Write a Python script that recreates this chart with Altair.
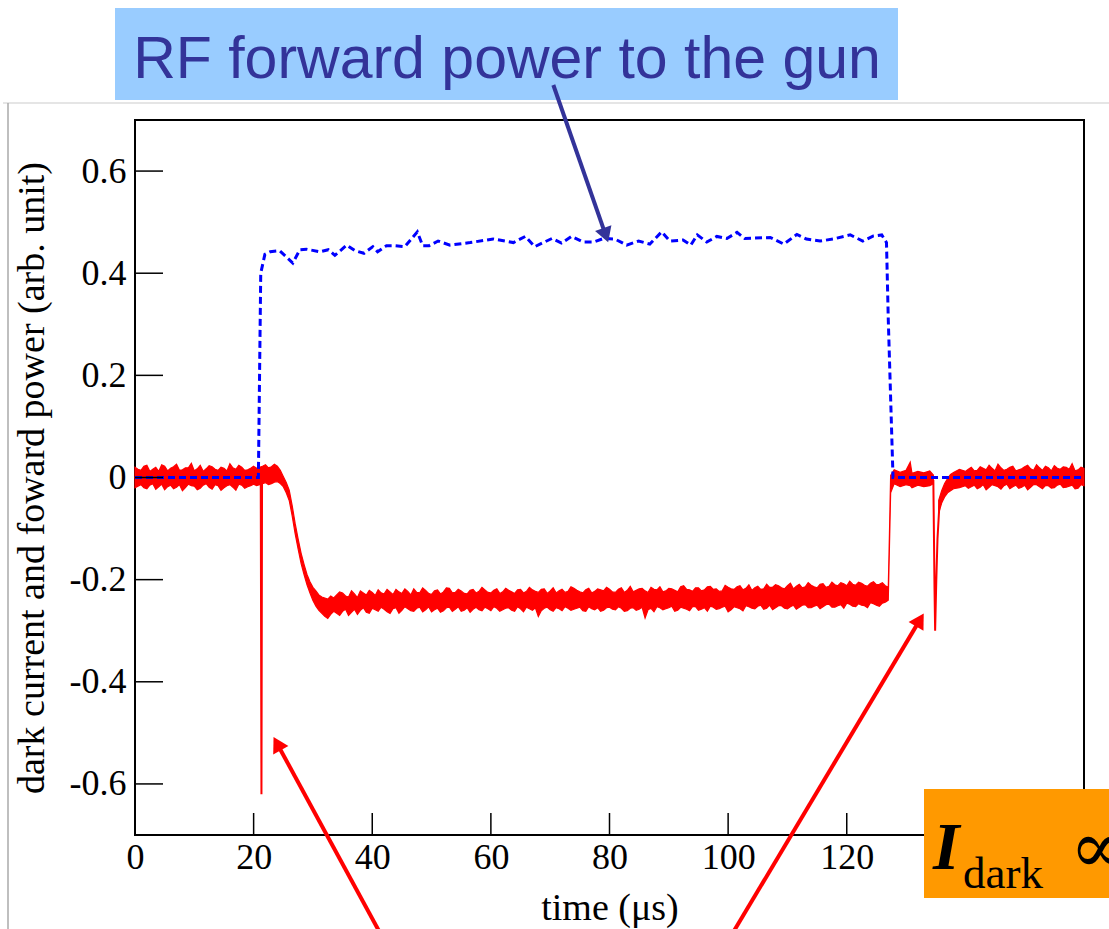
import altair as alt
import pandas as pd

# ---------------- data ----------------
# RF forward power (blue dashed): (time in us, value)
blue_points = [
    (0, 0.0), (20.8, 0.0), (21.2, 0.40), (21.9, 0.437), (22.8, 0.442), (24.4, 0.444),
    (26.6, 0.420), (27.8, 0.446), (28.9, 0.447), (31.2, 0.442), (32.6, 0.446), (33.7, 0.435),
    (35.7, 0.455), (37.1, 0.444), (38.6, 0.439), (40.1, 0.452), (40.9, 0.442), (42.4, 0.454),
    (43.5, 0.454), (45.5, 0.452), (47.6, 0.481), (48.5, 0.454), (49.6, 0.454), (51.1, 0.463),
    (53.1, 0.455), (56.5, 0.460), (60.4, 0.467), (63.8, 0.460), (65.8, 0.472), (67.4, 0.452),
    (70.3, 0.468), (71.9, 0.459), (73.6, 0.472), (75.6, 0.461), (77.3, 0.461), (79.0, 0.468),
    (80.9, 0.467), (82.9, 0.455), (84.9, 0.463), (86.8, 0.457), (88.8, 0.481), (90.2, 0.463),
    (92.4, 0.465), (93.7, 0.455), (94.8, 0.475), (96.4, 0.461), (98.1, 0.472), (99.8, 0.468),
    (101.5, 0.480), (102.8, 0.468), (107.1, 0.470), (109.4, 0.457), (111.6, 0.476), (113.2, 0.467),
    (115.5, 0.463), (117.7, 0.467), (120.6, 0.475), (122.7, 0.463), (124.5, 0.473), (125.9, 0.475),
    (126.7, 0.460), (127.0, 0.31), (127.8, 0.0), (160, 0.0),
]

# Dark current (red, noisy): (time, upper edge of noise band, lower edge)
red_band_a = [
    (0, .020, -.020), (1, .014, -.014), (2, .024, -.022), (3, .016, -.012), (4, .012, -.018),
    (5, .022, -.024), (6, .018, -.015), (7, .026, -.019), (8, .015, -.026), (9, .019, -.013),
    (10, .013, -.017), (11, .024, -.021), (12, .017, -.012), (13, .021, -.023), (14, .014, -.016),
    (15, .018, -.020), (16, .027, -.014), (17, .016, -.025), (18, .020, -.015), (19, .015, -.018),
    (20, .022, -.013), (20.5, .018, -.016), (21, .020, -.014), (21.5, .022, -.012), (22, .025, -.010),
    (22.5, .019, -.014), (23, .021, -.012), (23.5, .026, -.009), (24, .022, -.008), (24.5, .014, -.012),
    (25, .002, -.018), (25.5, -.010, -.030), (26, -.025, -.045), (26.5, -.055, -.075), (27, -.090, -.110),
    (27.5, -.120, -.140), (28, -.148, -.168), (28.5, -.170, -.190), (29, -.190, -.210), (29.5, -.204, -.226),
    (30, -.215, -.241), (30.5, -.222, -.252), (31, -.230, -.260), (31.5, -.234, -.266), (32, -.236, -.272),
    (32.5, -.238, -.276), (33, -.232, -.268),
    (34, -.230, -.266), (35, -.226, -.262), (36, -.234, -.270), (37, -.228, -.258), (38, -.222, -.260),
    (39, -.230, -.264), (40, -.225, -.256), (41, -.220, -.262), (42, -.228, -.258), (43, -.224, -.266),
    (44, -.219, -.255), (45, -.227, -.260), (46, -.223, -.257), (47, -.218, -.262), (48, -.226, -.254),
    (49, -.221, -.259), (50, -.229, -.263), (51, -.220, -.256), (52, -.224, -.261), (53, -.217, -.254),
    (54, -.225, -.258), (55, -.222, -.262), (56, -.228, -.255), (57, -.219, -.258), (58, -.223, -.259),
    (59, -.220, -.254), (60, -.226, -.261), (61, -.218, -.256), (62, -.224, -.259), (63, -.221, -.255),
    (64, -.227, -.262), (65, -.219, -.257), (66, -.223, -.254), (67, -.220, -.260), (68, -.225, -.272),
    (69, -.218, -.256), (70, -.222, -.259), (71, -.226, -.255), (72, -.219, -.261), (73, -.223, -.256),
    (74, -.217, -.258), (75, -.224, -.254), (76, -.220, -.262), (77, -.226, -.257), (78, -.218, -.255),
    (79, -.222, -.260), (80, -.219, -.254), (81, -.225, -.259), (82, -.216, -.256), (83, -.221, -.261),
    (84, -.224, -.255), (85, -.218, -.258), (86, -.222, -.275), (87, -.215, -.256), (88, -.220, -.253),
    (89, -.224, -.259), (90, -.217, -.255), (91, -.221, -.262), (92, -.214, -.254), (93, -.219, -.258),
    (94, -.223, -.253), (95, -.216, -.260), (96, -.220, -.255), (97, -.213, -.252), (98, -.218, -.258),
    (99, -.222, -.254), (100, -.215, -.263), (101, -.219, -.253), (102, -.212, -.257), (103, -.217, -.251),
    (104, -.221, -.256), (105, -.213, -.252), (106, -.218, -.258), (107, -.215, -.250), (108, -.210, -.255),
    (109, -.216, -.251), (110, -.212, -.257), (111, -.218, -.250), (112, -.209, -.254), (113, -.214, -.249),
    (114, -.211, -.255), (115, -.216, -.250), (116, -.208, -.253), (117, -.213, -.248), (118, -.210, -.254),
    (119, -.206, -.249), (120, -.212, -.246), (121, -.209, -.252), (122, -.205, -.247), (123, -.211, -.251),
    (124, -.207, -.245), (125, -.210, -.250), (126, -.206, -.246), (126.5, -.212, -.244), (127.0, -.215, -.240),
    (127.2, -.110, -.135), (127.4, .004, -.030), (128, .015, -.012), (129, .010, -.018), (130, .014, -.014),
    (130.7, .030, -.016), (131, .008, -.020), (132, .012, -.015), (133, .009, -.018), (134, .013, -.016),
    (134.6, .005, -.012),
]
# half-step readings of the same noisy band
red_band_a_half = [
    (0.5, .016, -.017), (1.5, .022, -.020), (2.5, .012, -.015), (3.5, .020, -.023), (4.5, .025, -.013),
    (5.5, .013, -.018), (6.5, .021, -.022), (7.5, .014, -.014), (8.5, .019, -.020), (9.5, .028, -.016),
    (10.5, .017, -.024), (11.5, .012, -.015), (12.5, .023, -.019), (13.5, .016, -.014), (14.5, .020, -.025),
    (15.5, .013, -.016), (16.5, .019, -.019), (17.5, .024, -.013), (18.5, .014, -.021), (19.5, .018, -.016),
    (33.5, -.236, -.262), (34.5, -.224, -.270), (35.5, -.232, -.258), (36.5, -.222, -.264), (37.5, -.235, -.268),
    (38.5, -.226, -.255), (39.5, -.221, -.266), (40.5, -.231, -.259), (41.5, -.226, -.254), (42.5, -.219, -.263),
    (43.5, -.229, -.257), (44.5, -.224, -.266), (45.5, -.218, -.253), (46.5, -.230, -.261), (47.5, -.225, -.256),
    (48.5, -.216, -.263), (49.5, -.227, -.253), (50.5, -.222, -.259), (51.5, -.228, -.264), (52.5, -.216, -.255),
    (53.5, -.226, -.262), (54.5, -.219, -.253), (55.5, -.227, -.260), (56.5, -.221, -.264), (57.5, -.226, -.254),
    (58.5, -.215, -.261), (59.5, -.225, -.257), (60.5, -.221, -.253), (61.5, -.227, -.262), (62.5, -.217, -.256),
    (63.5, -.224, -.260), (64.5, -.220, -.253), (65.5, -.226, -.263), (66.5, -.215, -.257), (67.5, -.223, -.255),
    (68.5, -.219, -.261), (69.5, -.227, -.254), (70.5, -.216, -.262), (71.5, -.222, -.257), (72.5, -.225, -.253),
    (73.5, -.214, -.260), (74.5, -.221, -.256), (75.5, -.226, -.261), (76.5, -.217, -.253), (77.5, -.223, -.259),
    (78.5, -.220, -.262), (79.5, -.215, -.255), (80.5, -.224, -.258), (81.5, -.219, -.253), (82.5, -.225, -.262),
    (83.5, -.213, -.256), (84.5, -.221, -.260), (85.5, -.217, -.254), (86.5, -.225, -.259), (87.5, -.219, -.263),
    (88.5, -.214, -.255), (89.5, -.222, -.257), (90.5, -.218, -.252), (91.5, -.224, -.260), (92.5, -.212, -.256),
    (93.5, -.220, -.261), (94.5, -.216, -.253), (95.5, -.222, -.258), (96.5, -.214, -.262), (97.5, -.219, -.254),
    (98.5, -.223, -.257), (99.5, -.211, -.252), (100.5, -.218, -.259), (101.5, -.214, -.255), (102.5, -.220, -.261),
    (103.5, -.210, -.253), (104.5, -.216, -.257), (105.5, -.219, -.250), (106.5, -.209, -.256), (107.5, -.215, -.259),
    (108.5, -.212, -.251), (109.5, -.218, -.256), (110.5, -.207, -.253), (111.5, -.213, -.258), (112.5, -.216, -.250),
    (113.5, -.206, -.255), (114.5, -.214, -.252), (115.5, -.209, -.257), (116.5, -.215, -.249), (117.5, -.205, -.254),
    (118.5, -.212, -.251), (119.5, -.208, -.256), (120.5, -.203, -.248), (121.5, -.211, -.253), (122.5, -.207, -.250),
    (123.5, -.213, -.255), (124.5, -.204, -.247), (125.5, -.209, -.252),
]
red_band_b = [
    (135.5, -.045, -.070), (136, -.026, -.050), (136.5, -.012, -.038), (137, -.002, -.030),
    (137.5, .006, -.026), (138, .010, -.022), (139, .016, -.020), (140, .012, -.016), (141, .020, -.018),
    (142, .014, -.022), (143, .018, -.014), (144, .024, -.019), (145, .013, -.016), (146, .019, -.023),
    (147, .016, -.013), (148, .022, -.018), (149, .015, -.021), (150, .021, -.015), (151, .017, -.019),
    (152, .025, -.014), (153, .014, -.022), (154, .019, -.016), (155, .023, -.020), (156, .016, -.013),
    (157, .020, -.019), (158, .027, -.015), (159, .015, -.021), (160, .018, -.016),
    (140.5, .016, -.021), (141.5, .013, -.015), (142.5, .021, -.019), (143.5, .015, -.024), (144.5, .018, -.014),
    (145.5, .026, -.018), (146.5, .014, -.016), (147.5, .020, -.022), (148.5, .013, -.015), (149.5, .017, -.019),
    (150.5, .024, -.024), (151.5, .014, -.014), (152.5, .019, -.018), (153.5, .022, -.016), (154.5, .013, -.021),
    (155.5, .018, -.015), (156.5, .021, -.020), (157.5, .016, -.017), (158.5, .013, -.022), (159.5, .020, -.014),
]
# narrow dark-current spikes: (time, value)
spike_1 = [(21.2, 0.0), (21.32, -0.62), (21.42, -0.005)]
spike_2 = [(134.6, -0.005), (134.8, -0.22), (134.9, -0.30), (135.1, -0.20), (135.3, -0.12),
           (135.6, -0.058), (136.3, -0.035), (137.4, -0.018)]

x_ticks = [0, 20, 40, 60, 80, 100, 120, 140, 160]
y_ticks = [-0.6, -0.4, -0.2, 0, 0.2, 0.4, 0.6]

# annotation arrows in data units: tail -> head centre, head angle
arrows = [
    dict(id="rf", x=70.53, y=0.7685, hx=79.36, hy=0.4746, angle=160.8, color="#333399"),
    dict(id="d1", x=41.98, y=-0.906, hx=23.97, hy=-0.5212, angle=331.1, color="#ff0000"),
    dict(id="d2", x=100.05, y=-0.906, hx=132.33, hy=-0.2788, angle=30.9, color="#ff0000"),
]

# ---------------- frames ----------------
W, H = 949, 715
SERIF = "Liberation Serif"
xs = alt.Scale(domain=[0, 160], nice=False, zero=False)
ys = alt.Scale(domain=[-0.7, 0.7], nice=False, zero=False)

band_rows = [dict(t=t, hi=hi, lo=lo, seg="a") for t, hi, lo in red_band_a + red_band_a_half] + \
            [dict(t=t, hi=hi, lo=lo, seg="b") for t, hi, lo in red_band_b]
band_df = pd.DataFrame(band_rows).sort_values(["seg", "t"]).reset_index(drop=True)
blue_df = pd.DataFrame(blue_points, columns=["t", "v"])
spike_df = pd.DataFrame([dict(t=t, v=v, s=1) for t, v in spike_1] +
                        [dict(t=t, v=v, s=2) for t, v in spike_2])

arrow_line_rows = []
for a in arrows:
    arrow_line_rows.append(dict(id=a["id"], px=a["x"], py=a["y"], o=0, color=a["color"]))
    arrow_line_rows.append(dict(id=a["id"], px=a["hx"], py=a["hy"], o=1, color=a["color"]))
arrow_line_df = pd.DataFrame(arrow_line_rows)
arrow_head_df = pd.DataFrame([dict(id=a["id"], px=a["hx"], py=a["hy"], angle=a["angle"], color=a["color"]) for a in arrows])

x_axis = alt.Axis(values=x_ticks, format="d", title="time (μs)", grid=False, ticks=False, domain=False,
                  labelFont=SERIF, labelFontSize=36, labelColor="black", labelPadding=5,
                  titleFont=SERIF, titleFontSize=38, titleFontWeight="normal", titleColor="black",
                  titleY=84, titleBaseline="alphabetic", labelFlush=False, labelOverlap=False)
y_axis = alt.Axis(values=y_ticks, title="dark current and foward power (arb. unit)", grid=False,
                  ticks=False, domain=False,
                  labelExpr="datum.value == 0 ? '0' : (datum.value < 0 ? '-' : '') + format(abs(datum.value), '.1f')",
                  labelFont=SERIF, labelFontSize=36, labelColor="black", labelPadding=9,
                  titleFont=SERIF, titleFontSize=38, titleFontWeight="normal", titleColor="black",
                  titleAngle=270, titleX=-92, titleY=H / 2, titleAlign="center", titleBaseline="alphabetic",
                  labelFlush=False, labelOverlap=False)

red_band = alt.Chart(band_df).mark_area(color="#ff0000", stroke="#ff0000", strokeWidth=1.2, opacity=1).encode(
    x=alt.X("t:Q", scale=xs, axis=x_axis),
    y=alt.Y("hi:Q", scale=ys, axis=y_axis),
    y2="lo:Q",
    detail="seg:N",
)
spikes = alt.Chart(spike_df).mark_line(color="#ff0000", strokeWidth=2).encode(
    x=alt.X("t:Q", scale=xs), y=alt.Y("v:Q", scale=ys), detail="s:N", order="t:Q")
blue = alt.Chart(blue_df).mark_line(color="#0000ff", strokeWidth=3, strokeDash=[7, 4]).encode(
    x=alt.X("t:Q", scale=xs), y=alt.Y("v:Q", scale=ys), order="t:Q")

ytick_rules = alt.Chart(pd.DataFrame({"v": y_ticks})).mark_rule(color="black", strokeWidth=1.5).encode(
    y=alt.Y("v:Q", scale=ys), x=alt.value(0), x2=alt.value(28))
xtick_rules = alt.Chart(pd.DataFrame({"v": x_ticks})).mark_rule(color="black", strokeWidth=1.5).encode(
    x=alt.X("v:Q", scale=xs), y=alt.value(H), y2=alt.value(H - 22))

arrow_lines = alt.Chart(arrow_line_df).mark_line(strokeWidth=4, clip=False).encode(
    x=alt.X("px:Q", scale=xs), y=alt.Y("py:Q", scale=ys), detail="id:N", order="o:Q",
    color=alt.Color("color:N", scale=None))
arrow_heads = alt.Chart(arrow_head_df).mark_point(shape="triangle-up", filled=True, size=300, opacity=1).encode(
    x=alt.X("px:Q", scale=xs), y=alt.Y("py:Q", scale=ys), angle=alt.Angle("angle:Q", scale=None),
    color=alt.Color("color:N", scale=None))

one = pd.DataFrame({"a": [0]})
frame_h = alt.Chart(one).mark_rule(color="#dddddd", strokeWidth=1.5).encode(
    x=alt.value(-132), x2=alt.value(1000), y=alt.value(-17))
frame_v = alt.Chart(one).mark_rule(color="#aaaaaa", strokeWidth=1.5).encode(
    x=alt.value(-127), y=alt.value(-17), y2=alt.value(820))

rf_box = alt.Chart(one).mark_rect(color="#99ccff").encode(
    x=alt.value(-20), x2=alt.value(763), y=alt.value(-112), y2=alt.value(-20))
rf_text = alt.Chart(one).mark_text(font="Liberation Sans", fontSize=59, color="#333399",
                                   align="center", baseline="alphabetic").encode(
    x=alt.value(372), y=alt.value(-42), text=alt.value("RF forward power to the gun"))

or_box = alt.Chart(one).mark_rect(color="#ff9900").encode(
    x=alt.value(789), x2=alt.value(1000), y=alt.value(669), y2=alt.value(778))
i_text = alt.Chart(one).mark_text(font=SERIF, fontSize=68, fontStyle="italic", fontWeight="bold",
                                  color="black", align="left", baseline="alphabetic").encode(
    x=alt.value(798), y=alt.value(749), text=alt.value("I"))
dark_text = alt.Chart(one).mark_text(font=SERIF, fontSize=45, color="black",
                                     align="left", baseline="alphabetic").encode(
    x=alt.value(828), y=alt.value(768), text=alt.value("dark"))
prop_text = alt.Chart(one).mark_text(font="DejaVu Serif", fontSize=72, color="black",
                                     align="left", baseline="alphabetic").encode(
    x=alt.value(935), y=alt.value(752), text=alt.value("∝"))

chart = alt.layer(
    frame_h, frame_v, red_band, spikes, blue, ytick_rules, xtick_rules,
    rf_box, rf_text, arrow_lines, arrow_heads, or_box, i_text, dark_text, prop_text,
).properties(
    width=W, height=H,
    padding={"left": 135, "top": 120, "right": 25, "bottom": 94},
    autosize=alt.AutoSizeParams(type="none"),
    background="white",
).configure_view(stroke="black", strokeWidth=2)

chart.save("out.html", embed_options={"renderer": "svg", "actions": False})
